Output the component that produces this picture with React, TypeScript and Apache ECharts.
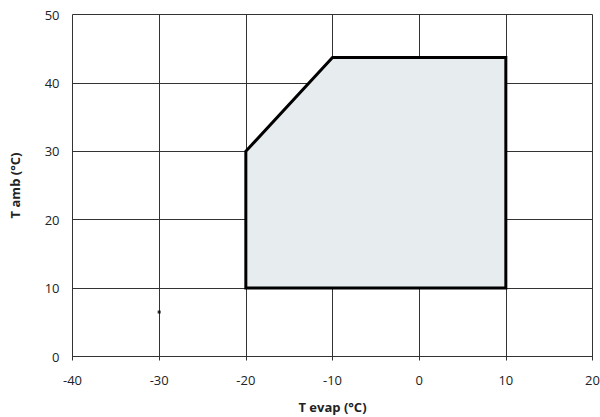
import React, { useEffect, useRef } from "react";
import * as echarts from "echarts";

const envelopeX = [-20, -20, -10, 10, 10];
const envelopeY = [10, 30, 43.7, 43.7, 10];
const dotPoint = [[-30, 6.5]];
const xName = "T evap (°C)";
const yName = "T amb (°C)";

export default function App() {
  const ref = useRef<HTMLDivElement>(null);
  useEffect(() => {
    if (!ref.current) return;
    const chart = echarts.init(ref.current, undefined, { renderer: "svg" });
    const polyData = envelopeX.map((x, i) => [x, envelopeY[i]]);
    const font = "'Open Sans', 'DejaVu Sans', sans-serif";
    chart.setOption({
      animation: false,
      backgroundColor: "#ffffff",
      grid: {
        left: 72.5,
        right: 7.5,
        top: 14.5,
        bottom: 60.5,
        containLabel: false,
        outerBoundsMode: "none",
      },
      xAxis: {
        type: "value",
        min: -40,
        max: 20,
        interval: 10,
        name: xName,
        nameLocation: "middle",
        nameGap: 44,
        nameTextStyle: { fontFamily: font, fontWeight: "bold", fontSize: 13, color: "#222" },
        axisLine: { show: true, lineStyle: { color: "#333", width: 1 } },
        axisTick: { show: true, length: 4, lineStyle: { color: "#333" } },
        axisLabel: { fontFamily: font, fontSize: 13, color: "#222", margin: 17 },
        splitLine: { show: true, lineStyle: { color: "#333", width: 1 } },
      },
      yAxis: {
        type: "value",
        min: 0,
        max: 50,
        interval: 10,
        name: yName,
        nameLocation: "middle",
        nameGap: 51,
        nameTextStyle: { fontFamily: font, fontWeight: "bold", fontSize: 13, color: "#222" },
        axisLine: { show: true, lineStyle: { color: "#333", width: 1 } },
        axisTick: { show: true, length: 3, lineStyle: { color: "#333" } },
        axisLabel: { fontFamily: font, fontSize: 13, color: "#222", margin: 13 },
        splitLine: { show: true, lineStyle: { color: "#333", width: 1 } },
      },
      series: [
        {
          type: "custom",
          data: polyData,
          renderItem: (params: any, api: any) => {
            if (params.dataIndex !== 0) return null;
            const pts = polyData.map((p) => api.coord(p));
            return {
              type: "polygon",
              shape: { points: pts },
              style: { fill: "#e7ecef", stroke: "#000", lineWidth: 3, lineJoin: "miter" },
              z2: 10,
            };
          },
          z: 3,
        },
        {
          type: "scatter",
          data: dotPoint,
          symbol: "rect",
          symbolSize: 3,
          itemStyle: { color: "#000" },
          z: 4,
        },
      ],
    });
    return () => chart.dispose();
  }, []);
  return (
    <div
      ref={ref}
      style={{ position: "absolute", left: 0, top: 0, width: 600, height: 417 }}
    />
  );
}
